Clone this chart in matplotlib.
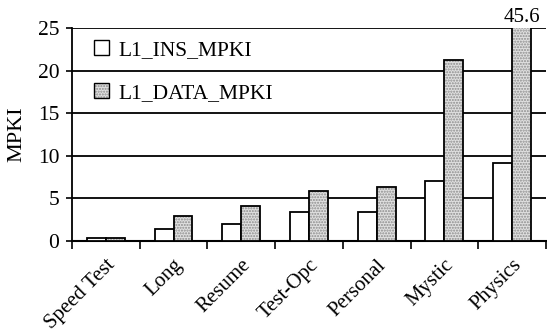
import matplotlib
matplotlib.use("Agg")
import matplotlib.pyplot as plt
import matplotlib.patches as mpatches
from matplotlib.legend_handler import HandlerTuple
import numpy as np

plt.rcParams['font.family'] = ['Liberation Serif', 'DejaVu Serif']
plt.rcParams['hatch.linewidth'] = 1.0

categories = ["Speed Test", "Long", "Resume", "Test-Opc", "Personal", "Mystic", "Physics"]
ins_mpki = [0.35, 1.4, 2.0, 3.35, 3.3, 7.0, 9.1]
data_mpki = [0.35, 2.9, 4.1, 5.85, 6.3, 21.3, 45.6]
y_ticks = [0, 5, 10, 15, 20, 25]
y_max = 25

fig = plt.figure(figsize=(5.47, 3.32), dpi=100)
ax = fig.add_axes([0.1316, 0.2756, 0.8664, 0.6392])

x = np.arange(len(categories))
w = 0.28

ax.bar(x - w / 2, ins_mpki, width=w, facecolor='white', edgecolor='black', linewidth=1.3, zorder=3)
# stippled fill for the data-cache bars, then a solid outline on top
ax.bar(x + w / 2, data_mpki, width=w, facecolor='#e0e0e0', edgecolor='#8c8c8c', hatch='......',
       linewidth=0, zorder=3)
ax.bar(x + w / 2, data_mpki, width=w, fill=False, edgecolor='black', linewidth=1.3, zorder=4)

# value of the clipped bar written above the frame
i_clip = int(np.argmax(data_mpki))
if data_mpki[i_clip] > y_max:
    ax.annotate(f"{data_mpki[i_clip]}", xy=(x[i_clip] + w / 2, y_max), xytext=(0, 1),
                textcoords='offset points', ha='center', va='bottom', fontsize=15,
                annotation_clip=False)

ax.set_xlim(-0.5, len(categories) - 0.5)
ax.set_ylim(0, y_max)
ax.set_yticks(y_ticks)
ax.tick_params(axis='y', labelsize=15.5, length=4, width=1.2, direction='out', pad=5, color='black')

ax.set_xticks(x)
ax.set_xticklabels(categories, rotation=45, ha='right', rotation_mode='anchor', fontsize=15)
ax.tick_params(axis='x', which='major', length=0, pad=11)
ax.set_xticks(np.arange(-0.5, len(categories)), minor=True)
ax.tick_params(axis='x', which='minor', length=6, width=1.2, direction='out')

ax.set_axisbelow(True)
ax.yaxis.grid(True, color='black', linewidth=1.3)
for s in ['top', 'right']:
    ax.spines[s].set_visible(False)
ax.spines['left'].set_linewidth(1.3)
ax.spines['bottom'].set_linewidth(1.5)

ax.set_ylabel("MPKI", fontsize=16)
ax.yaxis.set_label_coords(-0.096, 0.5)

h_ins = mpatches.Patch(facecolor='white', edgecolor='black', linewidth=1.0)
h_data = (mpatches.Patch(facecolor='#e0e0e0', edgecolor='#8c8c8c', hatch='......', linewidth=0),
          mpatches.Patch(fill=False, edgecolor='black', linewidth=1.0))
ax.legend([h_ins, h_data], ["L1_INS_MPKI", "L1_DATA_MPKI"],
          handler_map={tuple: HandlerTuple(ndivide=1)},
          loc='upper left', bbox_to_anchor=(0.028, 0.985), frameon=False, fontsize=15.5,
          handlelength=0.7, handleheight=0.7, handletextpad=0.45, labelspacing=1.05,
          borderaxespad=0.0)

fig.savefig("out.png", dpi=100)
